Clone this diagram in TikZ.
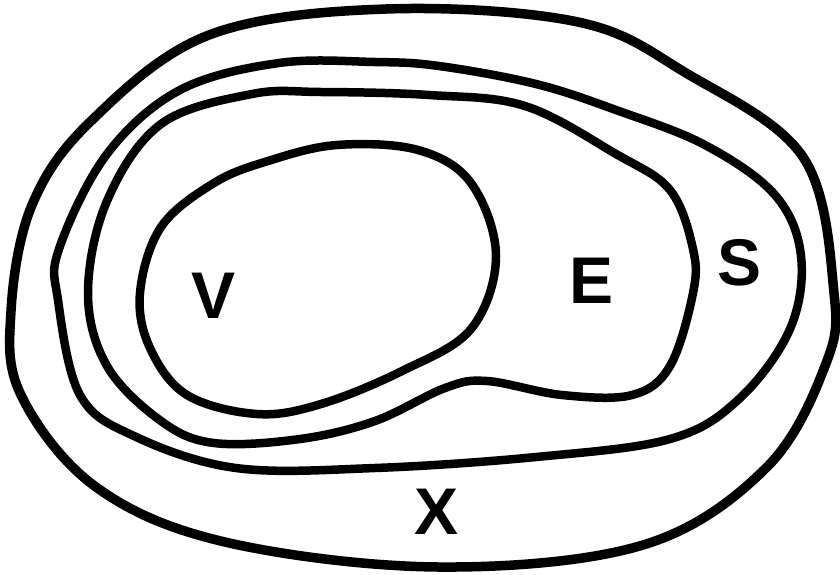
\documentclass[tikz,border=0pt]{standalone}
\usepackage{fontspec}
\setmainfont{Liberation Sans}
\begin{document}
\begin{tikzpicture}[x=1pt,y=-1pt,
  curve/.style={line width=8.5pt,line join=round},
  lab/.style={font=\fontsize{66}{66}\selectfont\bfseries}]
\useasboundingbox (0,0) rectangle (840,574);
% outer X
\draw[curve,line width=9.5pt] plot[smooth cycle,tension=0.6] coordinates {
 (386,9) (209,35) (91,121) (32,205) (11,311) (21,395) (96,487) (225,542)
 (439,567) (643,545) (766,468) (825,366) (834,293) (803,157) (686,73) (578,22)};
% S
\draw[curve] plot[smooth cycle,tension=0.6] coordinates {
 (279,63) (180,90) (107,154) (59,249) (58,300) (80,395) (134,436) (236,468) (375,468)
 (536,457) (670,439) (739,399) (790,329) (801,256) (775,195) (705,145)
 (616,110) (536,84) (439,66) (375,62)};
% E
\draw[curve] plot[smooth cycle,tension=0.6] coordinates {
 (252,94) (161,124) (107,201) (88,293) (107,366) (161,421) (214,443)
 (300,439) (375,421) (445,388) (487,381) (562,395) (632,395) (670,366)
 (693,293) (693,249) (670,190) (616,154) (525,106) (429,95) (321,92)};
% V
\draw[curve] plot[smooth cycle,tension=0.6] coordinates {
 (337,145) (268,161) (214,183) (161,227) (140,293) (150,348) (187,395)
 (257,414) (321,404) (402,371) (471,329) (496,256) (471,183) (418,150)};
\node[lab] (v) at (214,296) {V};
\node[lab] (e) at (592,281) {E};
\node[lab] (s) at (740,263) {S};
\node[lab] (x) at (437,512) {X};
\end{tikzpicture}
\end{document}
